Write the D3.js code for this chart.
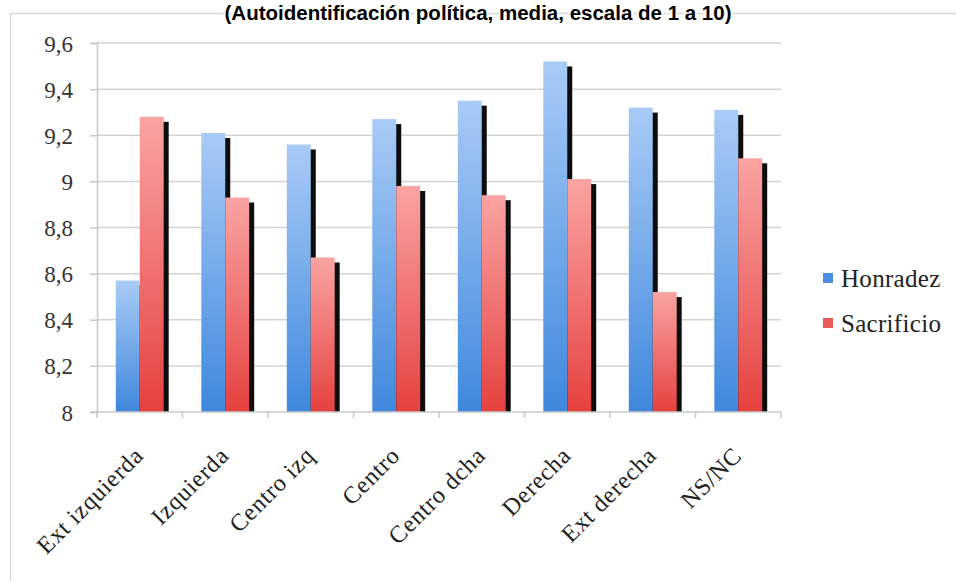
<!DOCTYPE html>
<html><head><meta charset="utf-8">
<script src="https://cdn.jsdelivr.net/npm/d3@7"></script>
<style>body{margin:0;background:#fff}svg{display:block}</style>
</head><body>
<svg id="c" width="956" height="581"></svg>
<script>
const categories = ["Ext izquierda","Izquierda","Centro izq","Centro","Centro dcha","Derecha","Ext derecha","NS/NC"];
const seriesNames = ["Honradez","Sacrificio"];
const honradez = [8.57, 9.21, 9.16, 9.27, 9.35, 9.52, 9.32, 9.31];
const sacrificio = [9.28, 8.93, 8.67, 8.98, 8.94, 9.01, 8.52, 9.10];
const yTicks = [8, 8.2, 8.4, 8.6, 8.8, 9, 9.2, 9.4, 9.6];
const title = "(Autoidentificación política, media, escala de 1 a 10)";

const svg = d3.select("#c");
const defs = svg.append("defs");
function grad(id, top, bot){
  const g = defs.append("linearGradient").attr("id", id).attr("x1",0).attr("y1",0).attr("x2",0).attr("y2",1);
  g.append("stop").attr("offset","0%").attr("stop-color",top);
  g.append("stop").attr("offset","100%").attr("stop-color",bot);
}
grad("gB", "#a9cbf6", "#3f88dd");
grad("gR", "#f9a4a3", "#e5413f");
const fills = ["url(#gB)", "url(#gR)"];
const legendCols = ["#4a90e0", "#e85a5a"];

// frame
svg.append("path").attr("d","M10.5,581 V13.5 H956").attr("fill","none").attr("stroke","#d9d9d9").attr("stroke-width",1.5);

svg.append("text").attr("x",478).attr("y",20).attr("text-anchor","middle")
  .attr("font-family","Liberation Sans, Arial, sans-serif").attr("font-weight","bold").attr("font-size",20.5)
  .attr("stroke","#fff").attr("stroke-width",4).attr("paint-order","stroke")
  .text(title);

const L = 97, R = 781, T = 43, B = 412;
const x0 = d3.scaleBand().domain(categories).range([L, R]).paddingInner(0.44).paddingOuter(0.22);
const x1 = d3.scaleBand().domain(seriesNames).range([0, x0.bandwidth()]);
const y = d3.scaleLinear().domain([8, 9.6]).range([B, T]);

// gridlines
svg.append("g").selectAll("line").data(yTicks.slice(1)).join("line")
  .attr("x1", L).attr("x2", R).attr("y1", d=>y(d)).attr("y2", d=>y(d))
  .attr("stroke","#d3d3d3").attr("stroke-width",1.5);

// y axis
const yAxis = d3.axisLeft(y).tickValues(yTicks).tickSize(7).tickFormat(d => String(d).replace(".", ","));
const gy = svg.append("g").attr("transform",`translate(${L},0)`).call(yAxis);
gy.select(".domain").attr("stroke","#c8c8c8").attr("stroke-width",1.5);
gy.selectAll(".tick line").attr("stroke","#c8c8c8").attr("stroke-width",1.5);
gy.selectAll(".tick text").attr("x",-24).attr("dy","0.35em").attr("fill","#333")
  .attr("font-family","Liberation Serif, Times New Roman, serif").attr("font-size",23);

const data = categories.map((c,i)=>({cat:c, vals:[honradez[i], sacrificio[i]]}));
const groups = svg.append("g").selectAll("g").data(data).join("g")
  .attr("transform", d=>`translate(${x0(d.cat)},0)`);
const clip = defs.append("clipPath").attr("id","pc");
clip.append("rect").attr("x",0).attr("y",0).attr("width",956).attr("height",B);
// shadows
groups.append("g").attr("clip-path","url(#pc)").selectAll("rect").data(d=>d.vals.map((v,j)=>({s:seriesNames[j], v})))
  .join("rect").attr("x", d=>x1(d.s)+5).attr("y", d=>y(d.v)+5)
  .attr("width", x1.bandwidth()).attr("height", d=>B - y(d.v)).attr("fill","#0d0d0d");
// bars
groups.append("g").selectAll("rect").data(d=>d.vals.map((v,j)=>({s:seriesNames[j], v, j})))
  .join("rect").attr("x", d=>x1(d.s)).attr("y", d=>y(d.v))
  .attr("width", x1.bandwidth()).attr("height", d=>B - y(d.v)).attr("fill", d=>fills[d.j]);

// x axis
const step = x0.step();
const bounds = d3.range(categories.length+1).map(i => L + i*step);
svg.append("line").attr("x1", L-7).attr("x2", R).attr("y1", B).attr("y2", B).attr("stroke","#c8c8c8").attr("stroke-width",1.5);
svg.append("g").selectAll("line").data(bounds).join("line")
  .attr("x1", d=>d).attr("x2", d=>d).attr("y1", B).attr("y2", B+6).attr("stroke","#c8c8c8").attr("stroke-width",1.5);
svg.append("g").selectAll("text").data(categories).join("text")
  .attr("transform", d=>`translate(${x0(d)+x0.bandwidth()/2+5},457) rotate(-45)`)
  .attr("text-anchor","end").attr("fill","#222")
  .attr("font-family","Liberation Serif, Times New Roman, serif").attr("font-size",24).attr("letter-spacing",0.8)
  .text(d=>d);

// legend
const lg = svg.append("g").selectAll("g").data(seriesNames).join("g")
  .attr("transform",(d,i)=>`translate(823,${278 + i*45})`);
lg.append("rect").attr("x",0).attr("y",-5).attr("width",10).attr("height",10).attr("fill",(d,i)=>legendCols[i]);
lg.append("text").attr("x",18).attr("y",0).attr("dy","0.35em").attr("fill","#222")
  .attr("font-family","Liberation Serif, Times New Roman, serif").attr("font-size",25).attr("letter-spacing",0.3).text(d=>d);
</script>
</body></html>
